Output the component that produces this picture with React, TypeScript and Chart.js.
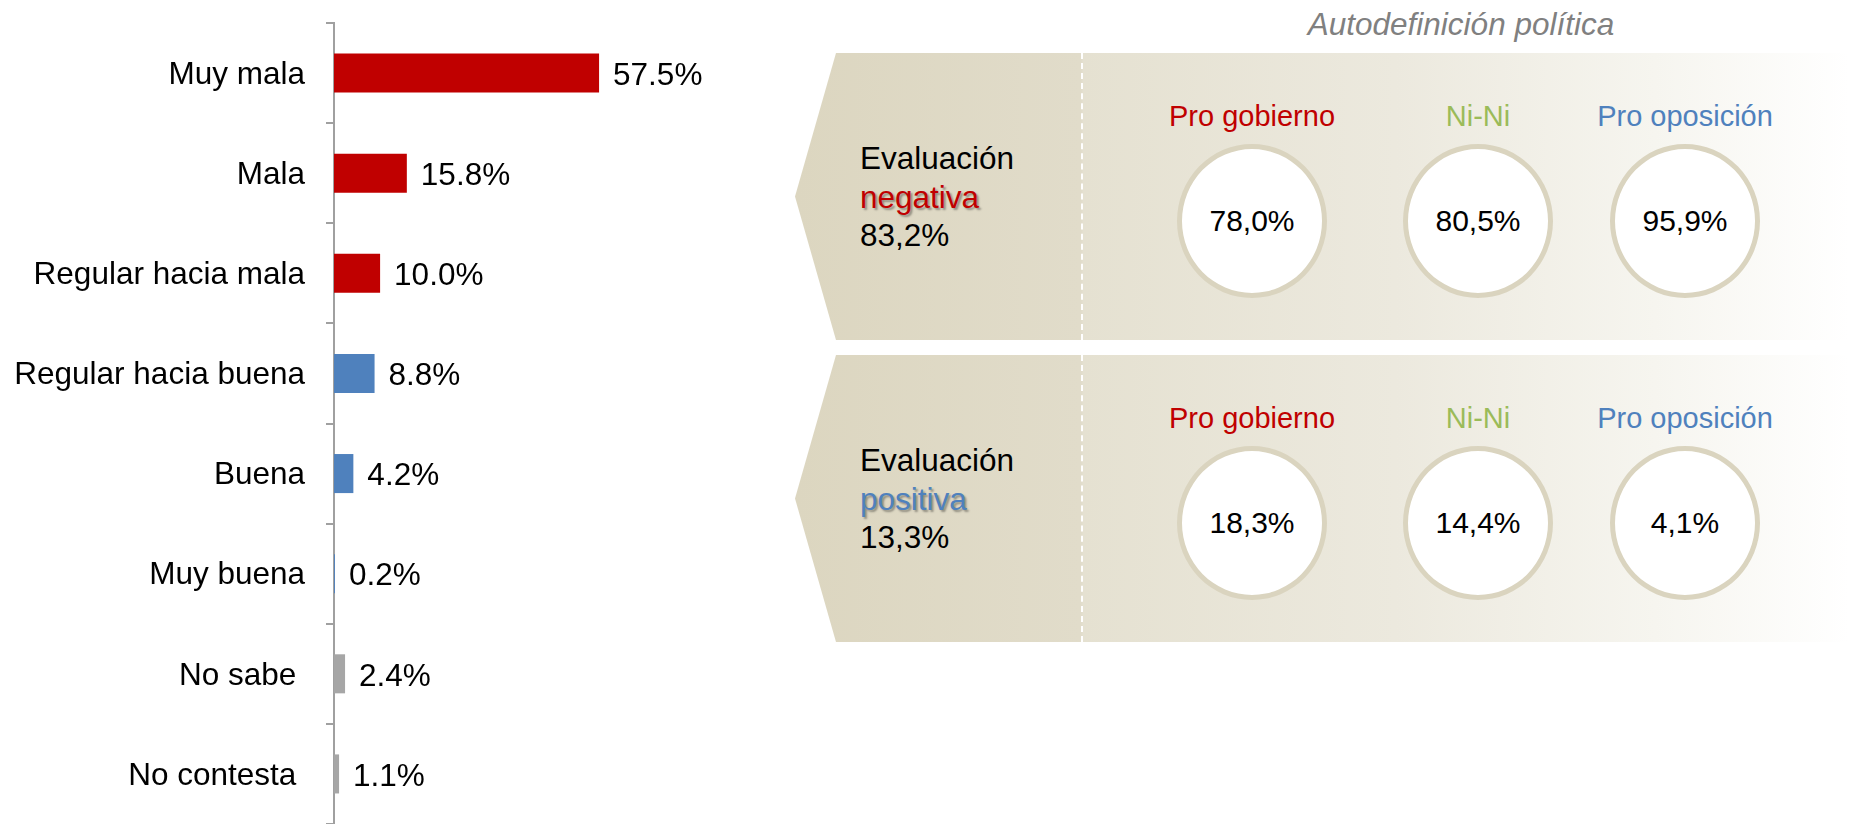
import React, { useEffect, useRef } from "react";
import { Chart, registerables } from "chart.js";

Chart.register(...registerables);

// ---- Data ----
const categories = [
  "Muy mala",
  "Mala",
  "Regular hacia mala",
  "Regular hacia buena",
  "Buena",
  "Muy buena",
  "No sabe ",
  "No contesta ",
];
const values = [57.5, 15.8, 10.0, 8.8, 4.2, 0.2, 2.4, 1.1];
const barColors = [
  "#C00000",
  "#C00000",
  "#C00000",
  "#4F81BD",
  "#4F81BD",
  "#4F81BD",
  "#A6A6A6",
  "#A6A6A6",
];

const panelTitle = "Autodefinición política";
const groups = ["Pro gobierno", "Ni-Ni", "Pro oposición"];
const groupColors = ["#C00000", "#9BBB59", "#4F81BD"];
const evalWord = "Evaluación";
const evalTitles = ["negativa", "positiva"];
const evalColors = ["#C00000", "#4F81BD"];
const evalTotals = [83.2, 13.3];
const negativeByGroup = [78.0, 80.5, 95.9];
const positiveByGroup = [18.3, 14.4, 4.1];
const groupValues = [negativeByGroup, positiveByGroup];

const FONT = "'Liberation Sans', Arial, Helvetica, sans-serif";
const fmtComma = (v: number) => v.toFixed(1).replace(".", ",") + "%";

const valueLabels = {
  id: "valueLabels",
  afterDatasetsDraw(chart: any) {
    const ctx = chart.ctx;
    const meta = chart.getDatasetMeta(0);
    ctx.save();
    ctx.font = `31.5px ${FONT}`;
    ctx.fillStyle = "#000";
    ctx.textAlign = "left";
    ctx.textBaseline = "middle";
    meta.data.forEach((bar: any, i: number) => {
      ctx.fillText(values[i].toFixed(1) + "%", bar.x + 14, bar.y + 3);
    });
    ctx.restore();
  },
};

function BarChart() {
  const ref = useRef<HTMLCanvasElement | null>(null);
  useEffect(() => {
    if (!ref.current) return;
    const chart = new Chart(ref.current, {
      type: "bar",
      data: {
        labels: categories,
        datasets: [
          {
            data: values,
            backgroundColor: barColors,
            barPercentage: 0.39,
            categoryPercentage: 1,
          },
        ],
      },
      options: {
        indexAxis: "y",
        responsive: false,
        animation: false,
        devicePixelRatio: 1,
        layout: { padding: { top: 23, left: 0, right: 0, bottom: 0 } },
        plugins: {
          legend: { display: false },
          tooltip: { enabled: false },
        },
        scales: {
          x: { display: false, min: 0, max: 100 },
          y: {
            afterFit: (s: any) => {
              s.width = 334;
              s.paddingTop = 0;
              s.paddingBottom = 0;
            },
            grid: {
              drawOnChartArea: false,
              drawTicks: true,
              tickLength: 8,
              color: "#A0A0A0",
              lineWidth: 2,
              offset: true,
            },
            border: { color: "#A0A0A0", width: 2 },
            ticks: {
              color: "#000",
              font: { family: FONT, size: 31.5 },
              padding: 21,
              labelOffset: 2,
            },
          },
        },
      } as any,
      plugins: [valueLabels],
    });
    return () => chart.destroy();
  }, []);
  return (
    <canvas
      ref={ref}
      width={795}
      height={824}
      style={{ position: "absolute", left: 0, top: 0, width: 795, height: 824 }}
    />
  );
}

const PANEL_LEFT = 795;
const PANEL_W = 1849 - 795;
const PANEL_H = 287;
const panelTops = [53, 355];
const colCenters = [1252, 1478, 1685];

function Panel({ idx }: { idx: number }) {
  const top = panelTops[idx];
  return (
    <div
      style={{
        position: "absolute",
        left: PANEL_LEFT,
        top,
        width: PANEL_W,
        height: PANEL_H,
        background:
          "linear-gradient(to right, #DCD6C0 0px, #E1DCCA 286px, #E5E1D1 288px, #ECE9DE 600px, #F6F5EF 860px, #FFFFFF 1054px)",
        clipPath: "polygon(41px 0, 100% 0, 100% 100%, 41px 100%, 0 50%)",
      }}
    >
      <div
        style={{
          position: "absolute",
          left: 286,
          top: 0,
          height: PANEL_H,
          borderLeft: "2px dashed #FFFFFF",
        }}
      />
      <div
        style={{
          position: "absolute",
          left: 65,
          top: 86,
          fontFamily: FONT,
          fontSize: 31.5,
          lineHeight: "38.5px",
          color: "#000",
          whiteSpace: "nowrap",
        }}
      >
        <div>{evalWord}</div>
        <div
          style={{
            color: evalColors[idx],
            textShadow: "2px 2px 2px rgba(0,0,0,0.35)",
          }}
        >
          {evalTitles[idx]}
        </div>
        <div>{fmtComma(evalTotals[idx])}</div>
      </div>
      {groups.map((g, j) => (
        <div
          key={"h" + j}
          style={{
            position: "absolute",
            left: colCenters[j] - PANEL_LEFT - 120,
            width: 240,
            top: 49,
            textAlign: "center",
            fontFamily: FONT,
            fontSize: 29,
            lineHeight: "29px",
            color: groupColors[j],
            whiteSpace: "nowrap",
          }}
        >
          {g}
        </div>
      ))}
      {groupValues[idx].map((v, j) => (
        <div
          key={"c" + j}
          style={{
            position: "absolute",
            left: colCenters[j] - PANEL_LEFT - 75,
            top: 167 - 76,
            width: 150,
            height: 154,
            boxSizing: "border-box",
            borderRadius: "50%",
            border: "5px solid #DAD4BF",
            background: "#FFFFFF",
            display: "flex",
            alignItems: "center",
            justifyContent: "center",
            fontFamily: FONT,
            fontSize: 30,
            color: "#000",
          }}
        >
          {fmtComma(v)}
        </div>
      ))}
    </div>
  );
}

export default function App() {
  return (
    <div
      style={{
        position: "absolute",
        left: 0,
        top: 0,
        width: 1849,
        height: 824,
        overflow: "hidden",
        background: "#FFFFFF",
      }}
    >
      <BarChart />
      <div
        style={{
          position: "absolute",
          left: 1461 - 250,
          width: 500,
          top: 9,
          textAlign: "center",
          fontFamily: FONT,
          fontStyle: "italic",
          fontSize: 31.5,
          lineHeight: "31.5px",
          color: "#808080",
          whiteSpace: "nowrap",
        }}
      >
        {panelTitle}
      </div>
      <Panel idx={0} />
      <Panel idx={1} />
    </div>
  );
}
